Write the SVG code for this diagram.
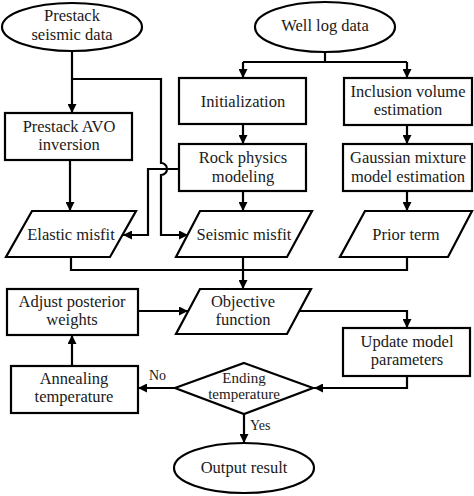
<svg xmlns="http://www.w3.org/2000/svg" width="474" height="496" viewBox="0 0 474 496">
<defs>
<marker id="ah" viewBox="0 0 10 10" refX="10" refY="5" markerWidth="9" markerHeight="9" markerUnits="userSpaceOnUse" orient="auto">
<path d="M0,0 L10,5 L0,10 z" fill="#000"/>
</marker>
</defs>
<style>
.s{fill:#fff;stroke:#000;stroke-width:2.2}
.c{fill:none;stroke:#000;stroke-width:2.2}
.a{marker-end:url(#ah)}
.t{font-family:'Liberation Serif','DejaVu Serif','Times New Roman',serif;font-size:16.5px;fill:#1a1a1a;text-anchor:middle}
.sm{font-size:15px}
.lb{font-size:14px;text-anchor:start}
</style>
<rect width="474" height="496" fill="#fff"/>
<g id="connectors">
<path class="c a" d="M72,52 V113"/>
<path class="c a" d="M72,79 H161 V163 A6,6 0 0 1 161,175 V235 H188"/>
<path class="c a" d="M70,160 V211"/>
<path class="c a" d="M179,169 H148 V235 H123"/>
<path class="c" d="M325,52 V62"/>
<path class="c" d="M243,62 H407"/>
<path class="c a" d="M243,62 V78"/>
<path class="c a" d="M407,62 V78"/>
<path class="c a" d="M243,124 V144"/>
<path class="c a" d="M407,125 V144"/>
<path class="c a" d="M243,191 V211"/>
<path class="c a" d="M407,191 V211"/>
<path class="c" d="M71,257 V270 H407 V257"/>
<path class="c" d="M243,257 V270"/>
<path class="c a" d="M243,270 V289"/>
<path class="c a" d="M138,311 H188"/>
<path class="c a" d="M299,311 H407 V328"/>
<path class="c a" d="M407,376 V388 H314"/>
<path class="c a" d="M175,388 H138"/>
<path class="c a" d="M72,366 V335"/>
<path class="c a" d="M244,414 V443"/>
</g>
<g id="n-prestack-data"><ellipse class="s" cx="72" cy="27" rx="70" ry="24"/><text class="t" x="72" y="21">Prestack</text><text class="t" x="72" y="40">seismic data</text></g>
<g id="n-well-log"><ellipse class="s" cx="325" cy="27" rx="70" ry="25"/><text class="t" x="325" y="31">Well log data</text></g>
<g id="n-init"><rect class="s" x="179" y="78" width="127" height="46"/><text class="t" x="243" y="107">Initialization</text></g>
<g id="n-inclusion"><rect class="s" x="344" y="78" width="128" height="47"/><text class="t" x="408" y="97">Inclusion volume</text><text class="t" x="408" y="115">estimation</text></g>
<g id="n-avo"><rect class="s" x="5" y="113" width="127" height="47"/><text class="t" x="69" y="132">Prestack AVO</text><text class="t" x="69" y="150">inversion</text></g>
<g id="n-rock"><rect class="s" x="179" y="144" width="127" height="47"/><text class="t" x="243" y="163">Rock physics</text><text class="t" x="243" y="182">modeling</text></g>
<g id="n-gauss"><rect class="s" x="343" y="144" width="129" height="47"/><text class="t" x="408" y="163">Gaussian mixture</text><text class="t" x="408" y="182">model estimation</text></g>
<g id="n-elastic"><polygon class="s" points="32,211 136,211 110,257 6,257"/><text class="t" x="71" y="240">Elastic misfit</text></g>
<g id="n-seismic"><polygon class="s" points="200,211 312,211 287,257 176,257"/><text class="t" x="244" y="240">Seismic misfit</text></g>
<g id="n-prior"><polygon class="s" points="365,211 472,211 448,257 340,257"/><text class="t" x="406" y="240">Prior term</text></g>
<g id="n-adjust"><rect class="s" x="7" y="289" width="131" height="46"/><text class="t" x="72" y="307">Adjust posterior</text><text class="t" x="72" y="325">weights</text></g>
<g id="n-objective"><polygon class="s" points="200,289 311,289 287,334 176,334"/><text class="t" x="243" y="307">Objective</text><text class="t" x="243" y="325">function</text></g>
<g id="n-update"><rect class="s" x="343" y="328" width="127" height="48"/><text class="t" x="407" y="347">Update model</text><text class="t" x="407" y="365">parameters</text></g>
<g id="n-anneal"><rect class="s" x="11" y="366" width="127" height="47"/><text class="t" x="74" y="384">Annealing</text><text class="t" x="74" y="402">temperature</text></g>
<g id="n-ending"><polygon class="s" points="244,363 313,388 244,414 175,388"/><text class="t sm" x="244" y="383">Ending</text><text class="t sm" x="244" y="399">temperature</text></g>
<g id="n-output"><ellipse class="s" cx="244" cy="468" rx="70" ry="25"/><text class="t" x="244" y="473">Output result</text></g>
<text class="t lb" x="149" y="380">No</text>
<text class="t lb" x="250" y="430">Yes</text>
</svg>
